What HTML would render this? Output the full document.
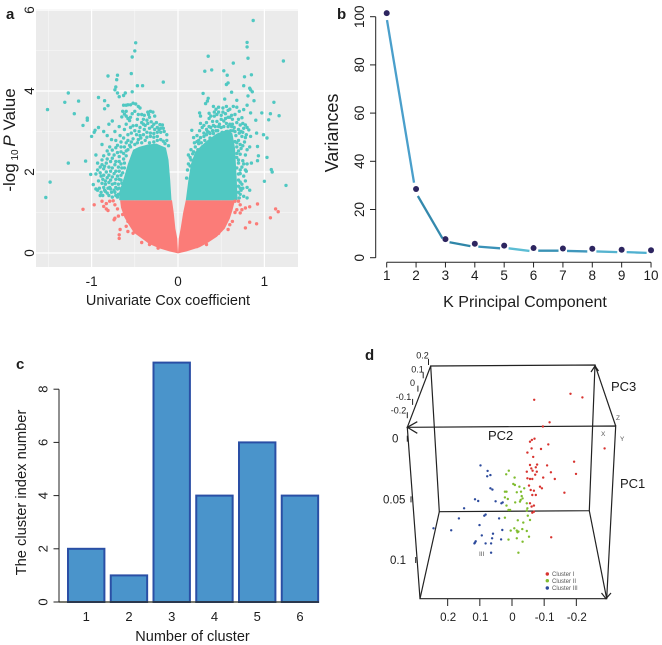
<!DOCTYPE html>
<html lang="en">
<head>
<meta charset="utf-8">
<title>Four panel cluster analysis figure</title>
<style>
html,body{margin:0;padding:0;background:#fff;width:662px;height:645px;overflow:hidden}
svg{display:block;filter:blur(0.3px)}
text{font-family:"Liberation Sans",sans-serif;fill:#1c1c1c}
</style>
</head>
<body>
<svg id="fig" xmlns="http://www.w3.org/2000/svg" width="662" height="645" viewBox="0 0 662 645">
  <text x="6" y="19" font-size="15" font-weight="bold">a</text>
  <text x="337" y="19" font-size="15" font-weight="bold">b</text>
  <text x="16" y="369" font-size="15" font-weight="bold">c</text>
  <text x="365" y="360" font-size="15" font-weight="bold">d</text>

  <g id="panelA">
    <rect x="36" y="9" width="262" height="258" fill="#ebebeb"/>
    <g id="aGrid"></g>
    <g id="aMarks"></g>
    <g id="aLabels"></g>
    <text x="168" y="305" font-size="14.5" text-anchor="middle">Univariate Cox coefficient</text>
    <text transform="translate(15 140) rotate(-90)" font-size="17" text-anchor="middle">-log<tspan font-size="10" dy="3"> 10 </tspan><tspan font-style="italic" dy="-3">P</tspan> Value</text>
  </g>

  <g id="panelB">
    <g id="bAxes"></g>
    <g id="bMarks"></g>
    <text x="525" y="307" font-size="16" text-anchor="middle">K Principal Component</text>
    <text transform="translate(338 133) rotate(-90)" font-size="18" text-anchor="middle">Variances</text>
  </g>

  <g id="panelC">
    <g id="cMarks"></g>
    <g id="cAxes"></g>
    <text x="192.5" y="641" font-size="14.5" text-anchor="middle">Number of cluster</text>
    <text transform="translate(26 492.5) rotate(-90)" font-size="14.7" text-anchor="middle">The cluster index number</text>
  </g>

  <g id="panelD">
    <g fill="none" stroke="#222" stroke-width="1.2">
      <path d="M430.7 366 L595 365 L589.3 510.7 L439.3 511.7 Z"/>
      <path d="M407.3 427.3 L615.7 426 L606.7 598.7 L420 598.7 Z"/>
      <path d="M430.7 366 L407.3 427.3 M595 365 L615.7 426 M439.3 511.7 L420 598.7 M589.3 510.7 L606.7 598.7"/>
    </g>
    <g id="dAxes"></g>
    <g id="dMarks"></g>
    <g font-size="13">
      <text x="611" y="391">PC3</text>
      <text x="488" y="440">PC2</text>
      <text x="620" y="488">PC1</text>
    </g>
    <g font-size="6.5">
      <text x="616" y="420" style="fill:#555">Z</text>
      <text x="601" y="436" style="fill:#555">X</text>
      <text x="620" y="441" style="fill:#555">Y</text>
      <text x="479" y="556" style="fill:#555">III</text>
    </g>
    <g>
      <circle cx="547.3" cy="574" r="1.7" fill="#d8332f"/>
      <circle cx="547.3" cy="580.7" r="1.7" fill="#7fbc2e"/>
      <circle cx="547.3" cy="588" r="1.7" fill="#2c4a9c"/>
      <text x="552" y="576.2" font-size="6" style="fill:#555">Cluster I</text>
      <text x="552" y="582.9" font-size="6" style="fill:#555">Cluster II</text>
      <text x="552" y="590.2" font-size="6" style="fill:#555">Cluster III</text>
    </g>
  </g>
</svg>
<script>
// ---------- Panel a data (coefficient, -log10 P) ----------
const volcanoXTicks = [-1, 0, 1];
const volcanoYTicks = [0, 2, 4, 6];
const volcanoXGrid = [-1.5, -1, -0.5, 0, 0.5, 1];
const volcanoYGrid = [0, 1, 2, 3, 4, 5, 6];
const redMassLeft = [[-0.008,0.35],[-0.03,0.6],[-0.05,1.0],[-0.07,1.3],[-0.67,1.3],[-0.66,1.12],[-0.62,0.88],[-0.57,0.7],[-0.51,0.5],[-0.42,0.36],[-0.33,0.22],[-0.21,0.11],[-0.1,0.04],[0,-0.01]];
const redMassRight = [[0,-0.01],[0.1,0.04],[0.25,0.14],[0.35,0.26],[0.45,0.4],[0.54,0.6],[0.6,0.85],[0.63,1.05],[0.66,1.3],[0.09,1.3],[0.06,1.0],[0.03,0.6],[0.008,0.35]];
const tealMassLeft = [[-0.075,1.3],[-0.09,1.8],[-0.11,2.3],[-0.14,2.6],[-0.25,2.7],[-0.35,2.68],[-0.45,2.62],[-0.52,2.55],[-0.58,2.2],[-0.62,1.9],[-0.68,1.5],[-0.68,1.3]];
const tealMassRight = [[0.09,1.3],[0.12,1.8],[0.15,2.2],[0.2,2.5],[0.27,2.65],[0.35,2.8],[0.45,2.95],[0.58,3.05],[0.63,2.95],[0.66,2.6],[0.67,2.2],[0.68,1.8],[0.69,1.3]];
const redScatter = [[-1.1,1.08],[-0.97,1.19],[-0.88,1.28],[-0.86,1.15],[-0.83,1.09],[-0.81,1.05],[-0.83,1.22],[-0.79,1.28],[-0.75,1.29],[-0.73,1.19],[-0.7,1.09],[-0.73,0.86],[-0.74,0.82],[-0.69,0.91],[-0.67,0.58],[-0.68,0.45],[-0.68,0.36],[-0.6,0.66],[-0.58,0.53],[-0.52,0.49],[-0.42,0.26],[-0.33,0.21],[-0.23,0.12],[0.66,1.28],[0.7,1.28],[0.72,1.19],[0.74,1.07],[0.78,1.11],[0.83,1.14],[0.92,1.21],[0.91,0.72],[0.83,0.76],[0.78,0.62],[1.07,0.87],[1.13,1.09],[1.16,1.02],[0.63,0.78],[0.58,0.58],[0.47,0.49],[0.33,0.21],[0.22,0.16],[0.68,1.07],[0.72,0.99],[-0.64,0.95],[-0.62,1.2],[-0.58,0.78],[0.6,0.7],[0.66,1.0]];
const tealScatterFarLeft = [[-0.49,5.19],[-0.5,4.99],[-0.53,4.84],[-0.54,4.43],[-0.17,4.22],[-0.7,4.39],[-0.81,4.37],[-0.71,4.28],[-0.47,4.13],[-0.41,4.13],[-0.72,4.1],[-0.73,4.03],[-0.7,3.95],[-0.68,3.86],[-0.61,3.95],[-0.63,3.89],[-0.53,3.98],[-1.27,3.95],[-1.15,3.75],[-1.31,3.72],[-1.51,3.54],[-1.2,3.44],[-1.05,3.33],[-1.05,3.28],[-1.1,3.15],[-0.92,3.84],[-0.85,3.76],[-0.85,3.56],[-0.81,3.64],[-0.96,3.03],[-0.97,2.98],[-1.0,2.88],[-1.27,2.22],[-1.07,2.27],[-1.48,1.75],[-1.53,1.37],[-1.01,1.94],[-0.98,1.69]];
const tealBandLeft = [[-0.63,3.65],[-0.6,3.65],[-0.58,3.66],[-0.55,3.66],[-0.52,3.7],[-0.49,3.68],[-0.46,3.62],[-0.44,3.58],[-0.64,3.5],[-0.62,3.43],[-0.6,3.38],[-0.58,3.32],[-0.56,3.27],[-0.65,3.36],[-0.53,3.44],[-0.47,3.3],[-0.39,3.4],[-0.35,3.48],[-0.32,3.5],[-0.29,3.48],[-0.27,3.38],[-0.42,3.22],[-0.38,3.15],[-0.35,3.2],[-0.31,3.24],[-0.25,3.22],[-0.21,3.17],[-0.18,3.16],[-0.22,3.05],[-0.17,3.08],[-0.13,2.92],[-0.27,3.05],[-0.33,3.08],[-0.39,3.05],[-0.45,3.0],[-0.5,3.02],[-0.55,3.1],[-0.62,3.05],[-0.68,3.12],[-0.76,3.26],[-0.8,3.18],[-0.73,3.0],[-0.67,2.9],[-0.86,3.0],[-0.82,2.9],[-0.92,3.1],[-0.77,2.8],[-0.72,2.78],[-0.63,2.84],[-0.6,2.72],[-0.56,2.66],[-0.52,2.82],[-0.47,2.72],[-0.43,2.84],[-0.38,2.78],[-0.33,2.72],[-0.28,2.86],[-0.24,2.78],[-0.88,2.68],[-0.79,2.62],[-0.72,2.6],[-0.66,2.62],[-0.6,2.52],[-0.95,2.42],[-0.86,2.4],[-0.8,2.44],[-0.74,2.42],[-0.68,2.38],[-0.63,2.32],[-0.93,2.22],[-0.88,2.18],[-0.83,2.22],[-0.78,2.26],[-0.73,2.18],[-0.69,2.12],[-0.65,2.1],[-0.93,2.05],[-0.86,2.08],[-0.83,2.0],[-0.78,2.02],[-0.74,1.96],[-0.7,1.9],[-0.66,1.92],[-0.89,1.9],[-0.82,1.86],[-0.78,1.8],[-0.73,1.72],[-0.69,1.7],[-0.88,1.72],[-0.84,1.7],[-0.79,1.62],[-0.74,1.55],[-0.7,1.58],[-0.91,1.6],[-0.85,1.55],[-0.82,1.48],[-0.77,1.5],[-0.72,1.42],[-0.89,1.5],[-0.81,1.6],[-0.69,1.45],[-0.65,1.72]];
const tealExtraLeft = [[-0.93,1.55],[-0.87,1.42],[-0.84,1.52],[-0.8,1.42],[-0.76,1.38],[-0.73,1.5],[-0.7,1.38],[-0.9,1.42],[-0.95,1.58],[-0.86,1.62],[-0.78,1.58],[-0.72,1.62],[-0.68,1.6],[-0.66,1.8],[-0.64,1.62],[-0.92,1.78],[-0.87,1.82],[-0.84,1.78],[-0.8,1.74],[-0.76,1.7],[-0.72,1.82],[-0.68,1.82],[-0.64,1.98],[-0.62,2.1],[-0.95,1.95],[-0.9,1.98],[-0.86,1.92],[-0.8,1.92],[-0.76,1.88],[-0.72,2.02],[-0.68,2.02],[-0.66,2.2],[-0.9,2.12],[-0.85,2.14],[-0.8,2.12],[-0.76,2.1],[-0.72,2.26],[-0.68,2.26],[-0.62,2.22],[-0.6,2.4],[-0.88,2.3],[-0.82,2.32],[-0.76,2.34],[-0.7,2.48],[-0.66,2.5],[-0.63,2.46],[-0.58,2.55],[-0.55,2.62],[-0.82,2.52],[-0.76,2.54],[-0.7,2.66],[-0.66,2.74],[-0.62,2.62],[-0.58,2.78],[-0.54,2.74],[-0.5,2.68],[-0.46,2.8],[-0.42,2.72],[-0.4,2.92],[-0.36,2.86],[-0.32,2.88],[-0.28,2.74],[-0.24,2.88],[-0.2,2.8],[-0.17,2.76],[-0.15,2.7],[-0.13,2.78],[-0.11,2.65],[-0.58,2.92],[-0.54,2.96],[-0.48,2.92],[-0.44,2.9],[-0.36,2.98],[-0.32,2.96],[-0.28,2.95],[-0.24,2.98],[-0.2,2.98],[-0.16,3.0],[-0.6,3.18],[-0.52,3.14],[-0.48,3.15],[-0.44,3.1],[-0.4,3.18],[-0.36,3.28],[-0.33,3.35],[-0.3,3.12],[-0.28,3.18],[-0.24,3.1],[-0.2,3.08],[-0.55,3.35],[-0.5,3.5],[-0.46,3.42],[-0.42,3.42],[-0.4,3.3],[-0.34,3.42],[-0.6,3.5]];
const tealScatterFarRight = [[0.87,5.74],[0.8,5.2],[0.8,5.09],[0.81,4.81],[1.22,4.74],[0.35,4.86],[0.64,4.69],[0.31,4.49],[0.39,4.52],[0.53,4.5],[0.57,4.39],[0.85,4.4],[0.77,4.35],[0.58,4.2],[0.56,4.16],[0.76,4.13],[0.83,4.07],[0.84,4.03],[0.86,3.98],[0.62,3.97],[0.29,3.94],[0.81,3.88],[0.35,3.82],[0.34,3.75],[0.32,3.69],[0.54,3.8],[0.68,3.77],[0.88,3.76],[1.11,3.72],[0.8,3.65],[0.76,3.54],[0.97,3.46],[1.07,3.44],[1.17,3.39],[1.05,3.29],[0.9,3.28],[0.84,3.46],[0.25,3.46],[0.26,3.38],[0.16,3.03],[0.91,2.96],[0.99,2.92],[1.03,2.84],[0.92,2.63],[0.93,2.4],[1.03,2.36],[0.92,2.28],[0.85,2.22],[1.08,2.06],[1.09,2.0],[0.79,2.02],[1.0,1.77],[1.25,1.67],[0.83,1.55]];
const tealBandRight = [[0.41,3.62],[0.44,3.55],[0.47,3.6],[0.52,3.58],[0.56,3.62],[0.58,3.52],[0.42,3.48],[0.38,3.38],[0.36,3.32],[0.4,3.25],[0.45,3.42],[0.5,3.4],[0.55,3.44],[0.6,3.35],[0.63,3.3],[0.66,3.42],[0.71,3.5],[0.74,3.34],[0.68,3.22],[0.63,3.18],[0.58,3.12],[0.53,3.26],[0.48,3.18],[0.43,3.12],[0.38,3.1],[0.33,3.05],[0.28,3.1],[0.25,3.02],[0.3,2.96],[0.36,2.98],[0.41,2.95],[0.46,3.02],[0.51,2.98],[0.56,3.0],[0.61,3.02],[0.65,3.1],[0.72,3.16],[0.76,3.08],[0.78,3.16],[0.82,3.04],[0.71,2.96],[0.74,2.88],[0.79,2.92],[0.84,2.88],[0.67,2.9],[0.7,2.78],[0.77,2.74],[0.83,2.62],[0.26,2.85],[0.22,2.9],[0.19,2.72],[0.24,2.7],[0.31,2.78],[0.37,2.84],[0.15,2.55],[0.18,2.5],[0.23,2.55],[0.28,2.62],[0.12,2.42],[0.15,2.3],[0.19,2.32],[0.68,2.62],[0.73,2.58],[0.78,2.42],[0.72,2.44],[0.68,2.36],[0.75,2.28],[0.7,2.22],[0.74,2.12],[0.68,2.1],[0.72,1.96],[0.76,1.9],[0.7,1.8],[0.74,1.7],[0.72,1.6],[0.78,1.78],[0.8,1.62],[0.72,1.45],[0.76,1.4],[0.8,1.36],[0.71,1.36]];
const tealExtraRight = [[0.7,1.5],[0.73,1.55],[0.75,1.6],[0.7,1.65],[0.72,1.75],[0.7,1.95],[0.72,2.05],[0.7,2.3],[0.68,2.46],[0.7,2.52],[0.72,2.68],[0.66,2.75],[0.68,2.72],[0.17,2.45],[0.14,2.36],[0.2,2.62],[0.24,2.78],[0.27,2.72],[0.3,2.88],[0.33,2.92],[0.37,2.95],[0.4,3.02],[0.44,3.02],[0.47,3.12],[0.5,3.1],[0.53,3.12],[0.56,3.2],[0.6,3.18],[0.62,3.12],[0.64,3.02],[0.66,3.0],[0.7,3.05],[0.73,3.0],[0.75,2.98],[0.34,3.0],[0.36,3.12],[0.41,3.15],[0.45,3.25],[0.5,3.3],[0.55,3.32],[0.58,3.35],[0.62,3.4],[0.42,3.38],[0.47,3.48],[0.52,3.48],[0.6,3.55],[0.64,3.62],[0.68,3.6],[0.7,3.3],[0.75,3.2],[0.8,3.1],[0.78,2.85],[0.75,2.65],[0.8,2.55],[0.76,2.2],[0.8,2.2],[0.78,2.05],[0.14,2.15],[0.12,2.2],[0.1,1.85],[0.11,2.05],[0.22,2.75],[0.18,2.85],[0.3,3.15],[0.26,3.2],[0.33,3.22],[0.36,3.45]];
// ---------- Panel b data ----------
const screeComponents = [1,2,3,4,5,6,7,8,9,10];
const screeVariances = [101.5,28.5,7.7,5.8,5,4,3.8,3.7,3.3,3.1];
const screeXTicks = [1,2,3,4,5,6,7,8,9,10];
const screeYTicks = [0,20,40,60,80,100];
const segmentStartK = [1.01,2.06,3.14,4.12,5.15,6.16,7.14,8.14,9.17];
const segmentStartV = [98.6,25.6,6.4,4.6,3.9,2.9,2.8,2.6,2.3];
const segmentEndK = [1.93,2.9,3.85,4.86,5.86,6.85,7.83,8.85,9.85];
const segmentEndV = [31.1,8,4.8,3.9,2.8,2.9,2.6,2.3,2.0];
const segmentColors = ['#4a9fcb','#3489ad','#2f86a8','#3a92b8','#5cbdd4','#3a92b5','#3f97bc','#55b3cf','#4fb0d0'];
// ---------- Panel c data ----------
const clusterCategories = [1,2,3,4,5,6];
const clusterCounts = [2,1,9,4,6,4];
const clusterYTicks = [0,2,4,6,8];
// ---------- Panel d data (PC2, PC1 as projected) ----------
const clusterOnePoints = [[-0.182,-0.037],[-0.219,-0.034],[-0.069,-0.032],[-0.117,-0.0135],[-0.096,-0.01],[-0.288,0.008],[-0.07,0],[-0.062,0.001],[-0.056,0.0025],[-0.113,0.0047],[-0.061,0.008],[-0.048,0.0115],[-0.09,0.0085],[-0.066,0.015],[-0.193,0.019],[-0.199,0.029],[-0.109,0.022],[-0.056,0.0217],[-0.078,0.0214],[-0.074,0.0236],[-0.06,0.0245],[-0.064,0.0264],[-0.046,0.0272],[-0.072,0.0297],[-0.121,0.0277],[-0.133,0.0332],[-0.097,0.0321],[-0.048,0.0327],[-0.056,0.0332],[-0.063,0.0332],[-0.087,0.0396],[-0.093,0.0409],[-0.053,0.0387],[-0.058,0.0423],[-0.068,0.0429],[-0.063,0.0464],[-0.074,0.0464],[-0.163,0.0445],[-0.056,0.0533],[-0.061,0.056],[-0.068,0.0552],[-0.068,0.0602],[-0.063,0.061],[-0.122,0.0813],[-0.077,0.0272]];
const clusterTwoPoints = [[0.01,0.0264],[0.018,0.0294],[-0.008,0.0321],[-0.004,0.0374],[-0.009,0.0382],[-0.023,0.0396],[-0.038,0.0409],[0.022,0.0437],[0.017,0.0437],[-0.015,0.0442],[-0.028,0.0437],[-0.03,0.0473],[0.022,0.0484],[0.013,0.0497],[-0.01,0.0525],[-0.025,0.0519],[-0.033,0.0492],[-0.027,0.0505],[-0.046,0.0533],[0.017,0.0552],[0.011,0.0588],[0.006,0.0588],[-0.048,0.0574],[-0.046,0.0593],[-0.049,0.0635],[-0.056,0.067],[0.022,0.0651],[-0.018,0.0673],[-0.035,0.0692],[-0.007,0.0739],[-0.032,0.0745],[-0.046,0.0761],[0.004,0.0758],[-0.015,0.0758],[-0.02,0.0766],[-0.017,0.0772],[-0.053,0.0808],[0.011,0.0832],[-0.015,0.0821],[-0.033,0.0849],[-0.02,0.094]];
const clusterThreePoints = [[0.098,0.022],[0.076,0.0266],[0.067,0.03],[0.077,0.031],[0.067,0.0409],[0.061,0.042],[0.115,0.05],[0.105,0.0514],[0.051,0.0516],[0.033,0.0533],[0.029,0.0525],[0.149,0.0574],[0.086,0.0635],[0.082,0.0626],[0.165,0.0657],[0.04,0.0657],[0.101,0.0712],[0.244,0.0739],[0.189,0.0755],[0.03,0.0753],[0.059,0.0783],[0.094,0.0797],[0.062,0.0821],[0.034,0.083],[0.113,0.0846],[0.115,0.0857],[0.117,0.0863],[0.082,0.0863],[0.065,0.0863],[0.065,0.094]];
const pc2Ticks = ['0.2','0.1','0','-0.1','-0.2'];
const pc1Ticks = ['0','0.05','0.1'];
const pc3Ticks = ['0.2','0.1','0','-0.1','-0.2'];

const NS = 'http://www.w3.org/2000/svg';
function make(tag, parent, props, content) {
  const el = document.createElementNS(NS, tag);
  for (const k in props) el.setAttribute(k, props[k]);
  if (content !== undefined) el.textContent = content;
  parent.appendChild(el);
  return el;
}
function named(el, name, active) {
  
  
  return el;
}

// ---------- Panel a ----------
const ax = v => 178 + v * 86.4;
const ay = v => 253 - v * 40.5;
const aGrid = document.getElementById('aGrid');
const aMarks = document.getElementById('aMarks');
const aLabels = document.getElementById('aLabels');
volcanoXGrid.forEach((v, i) => {
  const major = Number.isInteger(v);
  named(make('line', aGrid, {x1:ax(v),x2:ax(v),y1:9,y2:267,stroke:'#fff','stroke-width':major?1.2:0.6,'stroke-opacity':major?1:0.7}), 'grid-x-' + i, 'false');
});
volcanoYGrid.forEach((v, i) => {
  const major = v % 2 === 0;
  named(make('line', aGrid, {x1:36,x2:298,y1:ay(v),y2:ay(v),stroke:'#fff','stroke-width':major?1.2:0.6,'stroke-opacity':major?1:0.7}), 'grid-y-' + i, 'false');
});
function massPolygon(pts, fill, name) {
  const s = pts.map(p => ax(p[0]).toFixed(1) + ',' + ay(p[1]).toFixed(1)).join(' ');
  named(make('polygon', aMarks, {points:s, fill:fill}), name, 'false');
}
const RED = '#fb7c78', TEAL = '#50c8c2';
massPolygon(redMassLeft, RED, 'dense-red-points-left');
massPolygon(redMassRight, RED, 'dense-red-points-right');
massPolygon(tealMassLeft, TEAL, 'dense-teal-points-left');
massPolygon(tealMassRight, TEAL, 'dense-teal-points-right');
function drawPoints(list, fill, name) {
  list.forEach(p => {
    named(make('circle', aMarks, {cx:ax(p[0]).toFixed(1), cy:ay(p[1]).toFixed(1), r:1.7, fill:fill}), name, 'false');
  });
}
drawPoints(redScatter, RED, 'non-significant-point');
drawPoints(tealScatterFarLeft, TEAL, 'significant-point');
drawPoints(tealBandLeft, TEAL, 'significant-point');
drawPoints(tealExtraLeft, TEAL, 'significant-point');
drawPoints(tealScatterFarRight, TEAL, 'significant-point');
drawPoints(tealBandRight, TEAL, 'significant-point');
drawPoints(tealExtraRight, TEAL, 'significant-point');
volcanoXTicks.forEach(v => {
  named(make('text', aLabels, {x:ax(v),y:286,'font-size':13.5,'text-anchor':'middle'}, String(v)), 'x-tick-label-a', 'false');
});
volcanoYTicks.forEach(v => {
  const y = ay(v);
  named(make('text', aLabels, {transform:'translate(34 ' + y + ') rotate(-90)','font-size':13.5,'text-anchor':'middle'}, String(v)), 'y-tick-label-a', 'false');
});

// ---------- Panel b ----------
const bx = k => 386.7 + (k - 1) * 29.37;
const by = v => 257.7 - v * 2.41;
const bAxes = document.getElementById('bAxes');
const bMarks = document.getElementById('bMarks');
named(make('line', bAxes, {x1:375.7,x2:375.7,y1:by(100),y2:by(0),stroke:'#222','stroke-width':1}), 'y-axis-line-b', 'false');
named(make('line', bAxes, {x1:bx(1),x2:bx(10),y1:262.3,y2:262.3,stroke:'#222','stroke-width':1}), 'x-axis-line-b', 'false');
screeYTicks.forEach(v => {
  named(make('line', bAxes, {x1:370,x2:375.7,y1:by(v),y2:by(v),stroke:'#222','stroke-width':1}), 'y-tick-b', 'false');
  named(make('text', bAxes, {transform:'translate(364 ' + by(v) + ') rotate(-90)','font-size':13.5,'text-anchor':'middle'}, String(v)), 'y-tick-label-b', 'false');
});
screeXTicks.forEach(k => {
  named(make('line', bAxes, {x1:bx(k),x2:bx(k),y1:262.3,y2:267.5,stroke:'#222','stroke-width':1}), 'x-tick-b', 'false');
  named(make('text', bAxes, {x:bx(k),y:280,'font-size':13.5,'text-anchor':'middle'}, String(k)), 'x-tick-label-b', 'false');
});
segmentStartK.forEach((k, i) => {
  named(make('line', bMarks, {x1:bx(k),y1:by(segmentStartV[i]),x2:bx(segmentEndK[i]),y2:by(segmentEndV[i]),stroke:segmentColors[i],'stroke-width':2.3}), 'scree-line-segment', 'false');
});
screeComponents.forEach((k, i) => {
  named(make('circle', bMarks, {cx:bx(k),cy:by(screeVariances[i]),r:3,fill:'#2d2560'}), 'scree-point', 'false');
});

// ---------- Panel c ----------
const cBand = i => 86.2 + i * 42.75;
const cy = v => 602 - v * 26.6;
const cMarks = document.getElementById('cMarks');
const cAxes = document.getElementById('cAxes');
clusterCounts.forEach((v, i) => {
  named(make('rect', cMarks, {x:cBand(i) - 18.2,y:cy(v),width:36.4,height:cy(0) - cy(v),fill:'#4a94cb',stroke:'#2a4fa5','stroke-width':2}), 'bar-cluster-' + clusterCategories[i], 'false');
  named(make('text', cAxes, {x:cBand(i),y:621,'font-size':13,'text-anchor':'middle'}, String(clusterCategories[i])), 'x-tick-label-c', 'false');
});
named(make('line', cAxes, {x1:59,x2:59,y1:cy(8),y2:cy(0),stroke:'#222','stroke-width':1}), 'y-axis-line-c', 'false');
named(make('line', cAxes, {x1:59,x2:319,y1:cy(0),y2:cy(0),stroke:'#2a2a1a','stroke-width':1.2}), 'x-axis-line-c', 'false');
clusterYTicks.forEach(v => {
  named(make('line', cAxes, {x1:53.5,x2:59,y1:cy(v),y2:cy(v),stroke:'#222','stroke-width':1}), 'y-tick-c', 'false');
  named(make('text', cAxes, {transform:'translate(47.5 ' + cy(v) + ') rotate(-90)','font-size':13,'text-anchor':'middle'}, String(v)), 'y-tick-label-c', 'false');
});

// ---------- Panel d ----------
const dx = v => 512 - v * 321.67;
const dy = v => 438.67 + v * 1213.3;
const dMarks = document.getElementById('dMarks');
const dAxes = document.getElementById('dAxes');
function scatter3d(list, fill, name) {
  list.forEach(p => {
    named(make('circle', dMarks, {cx:dx(p[0]).toFixed(1),cy:dy(p[1]).toFixed(1),r:1.2,fill:fill}), name, 'false');
  });
}
scatter3d(clusterOnePoints, '#d8332f', 'cluster-one-point');
scatter3d(clusterTwoPoints, '#7fbc2e', 'cluster-two-point');
scatter3d(clusterThreePoints, '#2c4a9c', 'cluster-three-point');
pc2Ticks.forEach(t => {
  const x = dx(Number(t));
  named(make('line', dAxes, {x1:x,x2:x,y1:599,y2:606,stroke:'#222','stroke-width':1}), 'pc2-tick', 'false');
  named(make('text', dAxes, {x:x + 0.5,y:621,'font-size':11.5,'text-anchor':'middle'}, t), 'pc2-tick-label', 'false');
});
pc1Ticks.forEach(t => {
  named(make('text', dAxes, {x:t === '0' ? 392 : (t === '0.05' ? 383 : 390),y:dy(Number(t)) + 4,'font-size':11.5}, t), 'pc1-tick-label', 'false');
  named(make('line', dAxes, {x1:t === '0' ? 407.3 : (t === '0.05' ? 411 : 415.7),x2:t === '0' ? 407.3 : (t === '0.05' ? 411 : 415.7),y1:dy(Number(t)) - 3,y2:dy(Number(t)) + 3,stroke:'#222','stroke-width':1}), 'pc1-tick', 'false');
});
pc3Ticks.forEach((t, i) => {
  const tx = 422.5 - i * 5 - (i > 2 ? 4 : 0);
  const ty = 358.5 + i * 13.8;
  named(make('text', dAxes, {x:tx,y:ty,'font-size':9,'text-anchor':'middle'}, t), 'pc3-tick-label', 'false');
  named(make('line', dAxes, {x1:428.5 - i * 5.3,y1:359 + i * 13.3,x2:428.5 - i * 5.3,y2:365 + i * 13.3,stroke:'#222','stroke-width':1}), 'pc3-tick', 'false');
});
const arrowHeads = ['M417.3 421.7 L407.3 427.3 L417.3 433.3','M591 372 L595 366 L598.5 371','M601.5 593 L606 598.7 L611 593'];
arrowHeads.forEach(d => {
  named(make('path', dAxes, {d:d,fill:'none',stroke:'#222','stroke-width':1.2}), 'pca-axis-arrowhead', 'false');
});
</script>
</body>
</html>
